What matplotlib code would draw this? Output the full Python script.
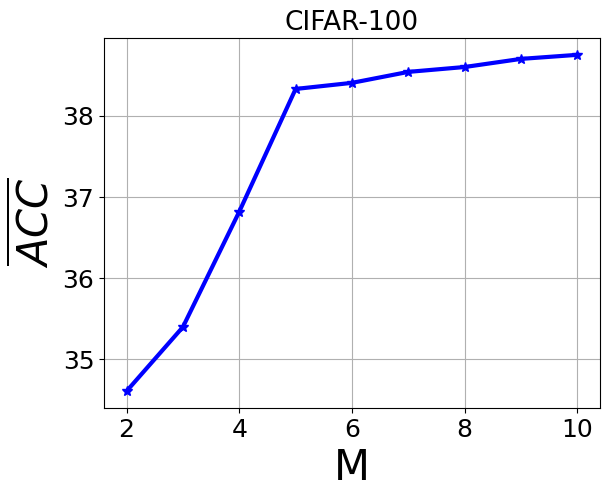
import matplotlib
matplotlib.use("Agg")
import matplotlib.pyplot as plt

m_values = [2, 3, 4, 5, 6, 7, 8, 9, 10]
acc = [34.61, 35.40, 36.82, 38.33, 38.405, 38.54, 38.60, 38.70, 38.75]

fig = plt.figure(figsize=(6.10, 4.99), dpi=100)
ax = fig.add_axes([104 / 610, 1 - 408 / 499, 496 / 610, 370 / 499])
ax.plot(m_values, acc, color='blue', marker='*', linewidth=3, markersize=7)
ax.set_title("CIFAR-100", fontsize=19)
ax.set_xlabel("M", fontsize=30)
ax.set_ylabel(r"$\overline{ACC}$", fontsize=30)
ax.tick_params(labelsize=18)
ax.grid(True)
fig.savefig("out.png")
